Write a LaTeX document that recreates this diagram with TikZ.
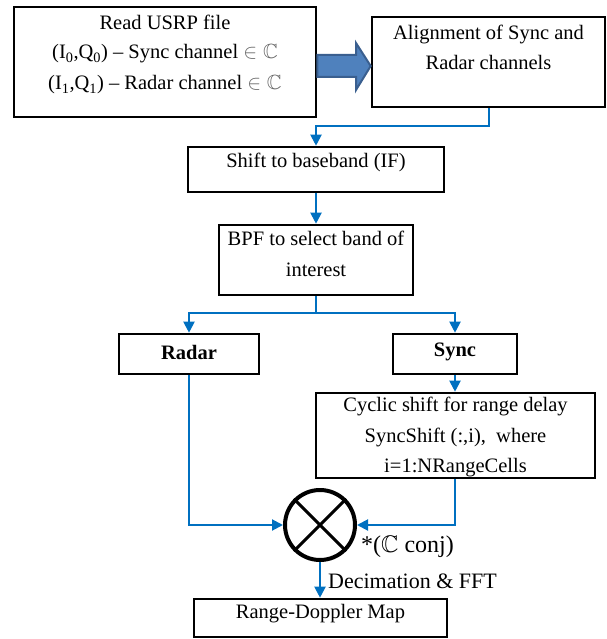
\documentclass[tikz,border=0pt]{standalone}
\usepackage{fontspec}
\setmainfont{Liberation Serif}
\usepackage{amssymb}
\usetikzlibrary{arrows.meta}
\definecolor{conn}{HTML}{0070C0}
\definecolor{bafill}{HTML}{4F81BD}
\definecolor{badraw}{HTML}{3A5F8F}
\tikzset{
  box/.style={draw=black, line width=2.6pt, inner sep=0pt, fill=none},
  txt/.style={inner sep=0pt, align=center, font=\fontsize{20.5}{30.5}\selectfont},
  lbl/.style={inner sep=0pt, anchor=west, font=\fontsize{22}{26}\selectfont},
  conn/.style={draw=conn, line width=2pt, -{Triangle[length=11pt,width=11pt]}},
  connl/.style={draw=conn, line width=2pt}
}
\newcommand{\elC}{\textcolor{black!60}{$\in\mathbb{C}$}}
\begin{document}
\begin{tikzpicture}[x=1pt,y=-1pt]
\useasboundingbox (0,0) rectangle (606,639);
% boxes
\node[box, minimum width=302, minimum height=110] (b1) at (165,62) {};
\node[box, minimum width=233, minimum height=90] (b2) at (488.5,62) {};
\node[box, minimum width=256, minimum height=45] (shift) at (316,169.5) {};
\node[box, minimum width=194, minimum height=70] (bpf) at (316,260) {};
\node[box, minimum width=140, minimum height=40] (radar) at (189,354) {};
\node[box, minimum width=124, minimum height=40] (sync) at (455,354) {};
\node[box, minimum width=279, minimum height=85] (cyc) at (455.5,435.5) {};
\node[box, minimum width=253, minimum height=38] (rd) at (320.5,618) {};
\node[circle, draw=black, line width=4pt, minimum size=70, inner sep=0pt] (mult) at (320,525) {};
\draw[line width=3pt] (mult.north west) -- (mult.south east);
\draw[line width=3pt] (mult.north east) -- (mult.south west);
% texts
\node[txt] (t1a) at (165,22) {Read USRP file};
\node[txt] (t1b) at (165,54) {(I\textsubscript{0},Q\textsubscript{0}) -- Sync channel \elC};
\node[txt] (t1c) at (165,85) {(I\textsubscript{1},Q\textsubscript{1}) -- Radar channel \elC};
\node[txt] (t2) at (488.5,47.5) {Alignment of Sync and\\Radar channels};
\node[txt] (t3) at (316,162) {Shift to baseband (IF)};
\node[txt] (t4) at (316,254) {BPF to select band of\\interest};
\node[txt, font=\fontsize{20.5}{30.5}\selectfont\bfseries] (t5) at (189,352) {Radar};
\node[txt, font=\fontsize{20.5}{30.5}\selectfont\bfseries] (t6) at (455,352) {Sync};
\node[txt] (t7) at (455.5,437) {Cyclic shift for range delay\\SyncShift (:,i),\ \ where\\i=1:NRangeCells};
\node[txt] (t8) at (320.5,614) {Range-Doppler Map};
\node[lbl, font=\fontsize{24}{28}\selectfont] (l1) at (361,547) {*($\mathbb{C}$ conj)};
\node[lbl] (l2) at (328,581) {Decimation \& FFT};
% block arrow
\draw[fill=bafill, draw=badraw, line width=2pt, line join=miter]
  (b1.east |- 0,55) -- (356,55) -- (356,43) -- (b2.west |- 0,66) -- (356,90) -- (356,77) -- (b1.east |- 0,77) -- cycle;
% connectors
\coordinate (c1) at (489,126);
\coordinate (c2) at (316,126);
\draw[conn] (b2.south -| c1) -- (c1) -- (c2) -- (shift.north);
\draw[conn] (shift.south) -- (bpf.north);
\coordinate (br) at (316,313);
\coordinate (bl) at (189,313);
\coordinate (bri) at (455,313);
\draw[connl] (bpf.south) -- (br);
\draw[conn] (br) -- (bl) -- (radar.north);
\draw[conn] (br) -- (bri) -- (sync.north);
\draw[conn] (sync.south) -- (cyc.north -| sync.south);
\coordinate (rl) at (189,525);
\coordinate (cl) at (455,525);
\draw[conn] (radar.south) -- (rl) -- (mult.west);
\draw[conn] (cyc.south -| cl) -- (cl) -- (mult.east);
\draw[conn] (mult.south) -- (rd.north -| mult.south);
\end{tikzpicture}
\end{document}
